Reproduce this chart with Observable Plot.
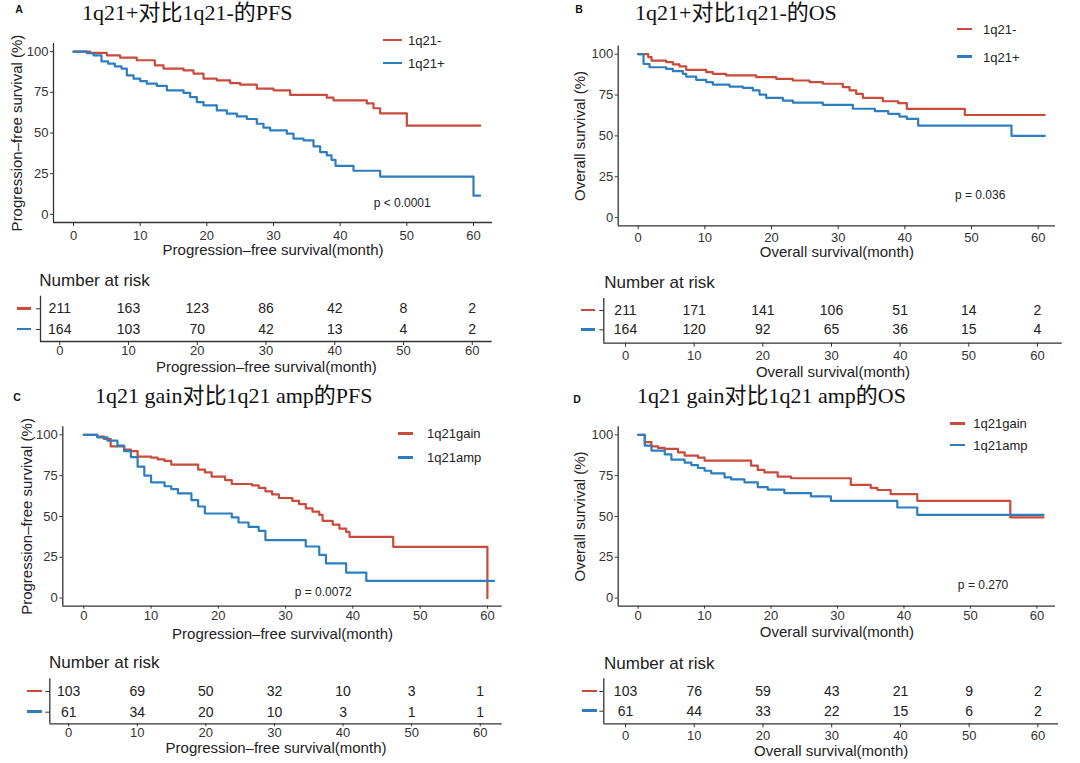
<!DOCTYPE html>
<html>
<head>
<meta charset="utf-8">
<script src="https://cdn.jsdelivr.net/npm/d3@7"></script>
<script src="https://cdn.jsdelivr.net/npm/@observablehq/plot@0.6"></script>
<style>
  html, body { margin: 0; padding: 0; background: #ffffff; }
  #root { position: relative; width: 1080px; height: 763px; overflow: hidden; background: #ffffff;
          font-family: "Liberation Sans", Arial, Helvetica, sans-serif; color: #222; }
  .fig { position: absolute; }
  .fig svg { overflow: visible; }
</style>
</head>
<body>
<div id="root"></div>
<script>
// ---------------- data ----------------
const monthTicks = [0, 10, 20, 30, 40, 50, 60];
const survTicks = [0, 25, 50, 75, 100];
const riskTimes = [0, 10, 20, 30, 40, 50, 60];

const groupsAB = ["1q21-", "1q21+"];
const groupsCD = ["1q21gain", "1q21amp"];

// Panel A: PFS, 1q21- vs 1q21+
const aNegT = [0, 2.5, 5, 7, 9.5, 12.2, 13.5, 16.5, 18, 19.5, 21.5, 23.5, 25, 27.5, 30, 32.5, 38, 39, 44, 45, 46, 50, 61];
const aNegS = [100, 99.2, 97.7, 96.3, 94.7, 91.6, 89.6, 88.5, 86.5, 83.4, 82.4, 80.7, 79.7, 77.3, 76.2, 73.4, 71.7, 70, 68.2, 65.2, 62, 54.5, 54.5];
const aPosT = [0, 2, 3, 4.2, 5.2, 6.2, 7.2, 8, 9, 10, 11, 12.5, 14, 16.5, 17.5, 18.5, 19.5, 21.5, 23, 24.5, 26, 27.5, 28.5, 29.5, 32, 33, 34.5, 36, 37, 38, 38.7, 39.3, 42, 46, 60, 61];
const aPosS = [100, 99, 97.7, 94, 92.6, 91, 89.6, 85.4, 83.4, 81.9, 80.3, 78.9, 76.2, 74.6, 72.1, 69, 67, 63.9, 61.9, 60.2, 58.6, 55.7, 53.3, 51.6, 49.6, 46.5, 45.5, 41.8, 38.3, 36.3, 33.5, 29.8, 26.8, 23.2, 11.5, 11.5];

// Panel B: OS, 1q21- vs 1q21+
const bNegT = [0, 1.5, 2, 4.2, 5.2, 6.2, 7.2, 10.2, 11.2, 13.2, 17.7, 20.7, 23.2, 25.7, 27.7, 30.7, 31.7, 32.7, 33.7, 36.7, 39, 40.3, 49, 61];
const bNegS = [100, 98.2, 96.1, 95.1, 93.7, 92.5, 90.4, 89, 88, 87, 85.9, 84.9, 83.9, 82.9, 81.9, 79.8, 77.8, 75.7, 73.3, 71.2, 70, 66.5, 62.8, 62.8];
const bPosT = [0, 0.8, 1.7, 4.2, 5.2, 6.7, 7.2, 8.7, 10.2, 11.2, 13.7, 15.7, 17.2, 18.2, 19.2, 21.7, 23.2, 27.7, 32.2, 35.5, 37.5, 39.2, 40.3, 42, 56, 61];
const bPosS = [100, 94, 92, 91, 89.6, 88, 86.3, 84.3, 82.9, 81.4, 80.2, 79.4, 77.8, 75.3, 73.3, 71.6, 70.4, 69, 66.6, 65.1, 63.5, 61.8, 60.4, 56.3, 50, 50];

// Panel C: PFS, 1q21 gain vs 1q21 amp
const cGainT = [0, 2, 3, 4, 6, 7, 8, 10, 11, 12, 13, 17, 18, 19, 21, 22, 25, 26, 27, 28, 29, 31, 32, 33, 34, 35, 35.5, 37, 38, 39, 39.5, 46, 60];
const cGainS = [100, 99, 97.5, 93, 91, 90, 86.7, 86, 85, 84, 81.8, 78.7, 77, 74.4, 72.3, 69.9, 69, 67.5, 65.4, 63.5, 61.3, 59.5, 57.6, 55, 52.9, 51, 47.3, 45, 42.5, 40.5, 37.5, 31.4, 0];
const cAmpT = [0, 2, 3.5, 5, 6, 7, 8, 9, 10, 12, 13, 14, 16, 17, 18, 22, 23, 24.5, 26, 27, 33, 35, 36, 39, 42, 61];
const cAmpS = [100, 98.5, 96.5, 93.4, 90, 86.3, 80.5, 75, 70.9, 68.5, 66.8, 64.1, 60, 56.1, 51.8, 49.4, 46.3, 43.6, 41.2, 35.5, 31.6, 26.4, 21.3, 15.6, 10.5, 10.5];

// Panel D: OS, 1q21 gain vs 1q21 amp
const dGainT = [0, 1, 2, 3, 4, 6, 7, 9, 10, 17, 18, 19, 21, 23, 32, 35, 36, 38, 42, 56, 61];
const dGainS = [100, 95.5, 93, 92, 91.4, 89.3, 87.3, 86, 84.2, 81.1, 78.5, 77, 74.4, 73.4, 69.3, 67.5, 66.2, 63.7, 59.6, 49.4, 49.4];
const dAmpT = [0, 1, 2, 4, 5, 7, 8, 9, 10, 11, 13, 14, 16, 18, 19.5, 22, 26, 29, 39, 42, 61];
const dAmpS = [100, 93.4, 90.4, 88, 84.8, 83, 81.5, 79.7, 78, 76.4, 74, 72.7, 70.9, 68, 66.4, 64.3, 62.3, 59.6, 55.5, 51, 51];

// Numbers at risk
const aRiskNeg = [211, 163, 123, 86, 42, 8, 2];
const aRiskPos = [164, 103, 70, 42, 13, 4, 2];
const bRiskNeg = [211, 171, 141, 106, 51, 14, 2];
const bRiskPos = [164, 120, 92, 65, 36, 15, 4];
const cRiskGain = [103, 69, 50, 32, 10, 3, 1];
const cRiskAmp = [61, 34, 20, 10, 3, 1, 1];
const dRiskGain = [103, 76, 59, 43, 21, 9, 2];
const dRiskAmp = [61, 44, 33, 22, 15, 6, 2];

// Texts
const titles = ["1q21+对比1q21-的PFS", "1q21+对比1q21-的OS", "1q21 gain对比1q21 amp的PFS", "1q21 gain对比1q21 amp的OS"];
const tags = ["A", "B", "C", "D"];
const pvals = ["p < 0.0001", "p = 0.036", "p = 0.0072", "p = 0.270"];
const pfsX = "Progression–free survival(month)";
const osX = "Overall survival(month)";
const pfsY = "Progression–free survival (%)";
const osY = "Overall survival (%)";

// ---------------- style ----------------
const RED = "#C84B3C", BLUE = "#2D7EBF", INK = "#222", AXIS = "#333";
const FONT = "'Liberation Sans', Arial, Helvetica, sans-serif";
const root = document.getElementById("root");

function put(text, x, y, css, center) {
  const d = document.createElement("div");
  d.textContent = text;
  d.style.cssText = `position:absolute;left:${x}px;top:${y}px;white-space:nowrap;line-height:1;` +
    `transform:translate(${center ? "-50%" : "0"},-50%);` + css;
  root.appendChild(d);
  return d;
}
function swatch(x1, x2, y, color) {
  const d = document.createElement("div");
  d.style.cssText = `position:absolute;left:${x1}px;top:${y - 1.25}px;width:${x2 - x1}px;height:2.5px;background:${color};`;
  root.appendChild(d);
}
function mount(svg, x, y) {
  const w = document.createElement("div");
  w.className = "fig";
  w.style.left = x + "px"; w.style.top = y + "px";
  w.appendChild(svg);
  root.appendChild(w);
}

function kmPlot(cfg) {
  const W = 540;
  const data = [];
  cfg.series.forEach(([T, S], k) => T.forEach((t, i) => data.push({t, s: S[i], g: cfg.groups[k]})));
  const f = cfg.frame;
  const svg = Plot.plot({
    width: W, height: cfg.h,
    marginLeft: f.l - cfg.ox, marginRight: cfg.ox + W - f.r,
    marginTop: f.t - cfg.top, marginBottom: cfg.top + cfg.h - f.b,
    x: {domain: cfg.xDomain},
    y: {domain: cfg.yDomain},
    color: {domain: cfg.groups, range: [RED, BLUE]},
    style: {fontFamily: FONT, fontSize: "13px", color: AXIS, background: "transparent"},
    marks: [
      Plot.axisX({ticks: monthTicks, tickSize: cfg.xTick, tickPadding: cfg.xPad, label: null, fill: "#333"}),
      Plot.axisY({ticks: survTicks, tickSize: 3, tickPadding: 2, label: null, fill: "#333"}),
      Plot.ruleX([cfg.xDomain[0]], {stroke: AXIS, strokeWidth: 1.3}),
      Plot.ruleY([cfg.yDomain[0]], {stroke: AXIS, strokeWidth: 1.3}),
      Plot.line(data, {x: "t", y: "s", z: "g", stroke: "g", curve: "step-after", strokeWidth: 2.2}),
      Plot.text([cfg.xLabel], {frameAnchor: "bottom", dy: cfg.xLabelDy, text: d => d, fontSize: 15,
        textAnchor: "middle", lineAnchor: "middle", fill: INK}),
      Plot.text([cfg.yLabel], {frameAnchor: "left", dx: cfg.yLabelDx, rotate: -90, text: d => d, fontSize: 15,
        textAnchor: "middle", lineAnchor: "middle", fill: INK}),
      Plot.text([cfg.pval], {x: cfg.pAt[0], y: cfg.pAt[1], text: d => d, fontSize: 12, fill: INK})
    ]
  });
  mount(svg, cfg.ox, cfg.top);
}

function riskTable(cfg) {
  const W = 540;
  const f = cfg.frame;
  const step = cfg.rowsY[1] - cfg.rowsY[0];
  const yDomain = [1 - (f.b - cfg.rowsY[1]) / step, 2 + (cfg.rowsY[0] - f.t) / step];
  const rows = [];
  cfg.counts.forEach((c, k) => riskTimes.forEach((t, i) => rows.push({t, n: c[i], r: 2 - k})));
  const svg = Plot.plot({
    width: W, height: cfg.h,
    marginLeft: f.l - cfg.ox, marginRight: cfg.ox + W - f.r,
    marginTop: f.t - cfg.top, marginBottom: cfg.top + cfg.h - f.b,
    x: {domain: cfg.xDomain},
    y: {domain: yDomain},
    style: {fontFamily: FONT, fontSize: "13px", color: AXIS, background: "transparent"},
    marks: [
      Plot.axisX({ticks: monthTicks, tickSize: cfg.xTick, tickPadding: cfg.xPad, label: null, fill: "#333"}),
      Plot.axisY({ticks: [1, 2], tickSize: 4, tickFormat: () => "", label: null}),
      Plot.ruleX([yDomain[0] * 0 + cfg.xDomain[0]], {stroke: AXIS, strokeWidth: 1.3}),
      Plot.ruleY([yDomain[0]], {stroke: AXIS, strokeWidth: 1.3}),
      Plot.text(rows, {x: "t", y: "r", text: "n", fontSize: 14, fill: INK}),
      Plot.text([cfg.xLabel], {frameAnchor: "bottom", dy: cfg.xLabelDy, text: d => d, fontSize: 15,
        textAnchor: "middle", lineAnchor: "middle", fill: INK})
    ]
  });
  mount(svg, cfg.ox, cfg.top);
  put("Number at risk", cfg.narX, cfg.narY, `font-size:17px;color:${INK};font-family:${FONT};`);
  swatch(cfg.dash[0], cfg.dash[1], cfg.rowsY[0], RED);
  swatch(cfg.dash[0], cfg.dash[1], cfg.rowsY[1], BLUE);
}

function header(i, tagX, tagY, titleX, titleY) {
  put(tags[i], tagX, tagY, `font-size:10.5px;font-weight:bold;color:#111;font-family:${FONT};`, true);
  put(titles[i], titleX, titleY,
    `font-size:22px;color:#111;font-family:'Liberation Serif','Noto Sans CJK SC',serif;`);
}
function legend(groups, x1, x2, tx, y1, y2) {
  swatch(x1, x2, y1, RED); swatch(x1, x2, y2, BLUE);
  put(groups[0], tx, y1, `font-size:13px;color:${INK};font-family:${FONT};`);
  put(groups[1], tx, y2, `font-size:13px;color:${INK};font-family:${FONT};`);
}

// ---------------- panel A ----------------
header(0, 19, 8.5, 82, 12.5);
kmPlot({ox: 0, top: 20, h: 244, frame: {l: 53, r: 492, t: 43, b: 222},
  xDomain: [-3, 62.85], yDomain: [-5, 105], groups: groupsAB,
  series: [[aNegT, aNegS], [aPosT, aPosS]], xTick: 4, xPad: 4,
  xLabel: pfsX, xLabelDy: 28, yLabel: pfsY, yLabelDx: -36, pval: pvals[0], pAt: [49.3, 6.7]});
legend(groupsAB, 383, 402, 408, 40, 63);
riskTable({ox: 0, top: 264, h: 118, frame: {l: 40, r: 491.7, t: 295.7, b: 341},
  xDomain: [-2.8, 62.9], rowsY: [308.3, 329], counts: [aRiskNeg, aRiskPos], xTick: 4, xPad: 0.5,
  xLabel: pfsX, xLabelDy: 25.7, narX: 39.3, narY: 280, dash: [17, 31]});

// ---------------- panel B ----------------
header(1, 579, 8.5, 635, 12.5);
kmPlot({ox: 540, top: 20, h: 244, frame: {l: 617.7, r: 1055, t: 45.5, b: 225.3},
  xDomain: [-3, 62.6], yDomain: [-5, 105], groups: groupsAB,
  series: [[bNegT, bNegS], [bPosT, bPosS]], xTick: 4, xPad: 3,
  xLabel: osX, xLabelDy: 26.7, yLabel: osY, yLabelDx: -37.7, pval: pvals[1], pAt: [51.3, 13.6]});
legend(groupsAB, 957, 972, 983, 29, 56.7);
riskTable({ox: 540, top: 264, h: 118, frame: {l: 603.3, r: 1061.7, t: 298, b: 342.7},
  xDomain: [-3.16, 63.6], rowsY: [310, 329.3], counts: [bRiskNeg, bRiskPos], xTick: 4, xPad: 3.6,
  xLabel: osX, xLabelDy: 29, narX: 604.3, narY: 281.7, dash: [581, 595]});

// ---------------- panel C ----------------
header(2, 17, 397, 95, 395.5);
kmPlot({ox: 0, top: 410, h: 233, frame: {l: 62.3, r: 501.7, t: 426.2, b: 605.7},
  xDomain: [-3.12, 62.2], yDomain: [-5, 105], groups: groupsCD,
  series: [[cGainT, cGainS], [cAmpT, cAmpS]], xTick: 3, xPad: 2,
  xLabel: pfsX, xLabelDy: 27.6, yLabel: pfsY, yLabelDx: -35.6, pval: pvals[2], pAt: [35.6, 3.6]});
legend(groupsCD, 398, 413, 427, 433.3, 457.3);
riskTable({ox: 0, top: 643, h: 120, frame: {l: 49.3, r: 501.7, t: 678.3, b: 723.3},
  xDomain: [-2.75, 63.2], rowsY: [691, 711.7], counts: [cRiskGain, cRiskAmp], xTick: 3, xPad: 1,
  xLabel: pfsX, xLabelDy: 24.2, narX: 49, narY: 662.3, dash: [27, 41.7]});

// ---------------- panel D ----------------
header(3, 577, 399, 637, 395.5);
kmPlot({ox: 540, top: 410, h: 233, frame: {l: 617.7, r: 1055, t: 426.2, b: 605.7},
  xDomain: [-3, 62.8], yDomain: [-5, 105], groups: groupsCD,
  series: [[dGainT, dGainS], [dAmpT, dAmpS]], xTick: 3, xPad: 2,
  xLabel: osX, xLabelDy: 26.3, yLabel: osY, yLabelDx: -37.7, pval: pvals[3], pAt: [51.9, 7.7]});
legend(groupsCD, 950, 965, 973.3, 423.3, 445);
riskTable({ox: 540, top: 643, h: 120, frame: {l: 603.3, r: 1058, t: 678.3, b: 723.3},
  xDomain: [-3.16, 63.0], rowsY: [691, 710.7], counts: [dRiskGain, dRiskAmp], xTick: 4, xPad: 3,
  xLabel: osX, xLabelDy: 27.7, narX: 604, narY: 662.7, dash: [582, 596.7]});
</script>
</body>
</html>
